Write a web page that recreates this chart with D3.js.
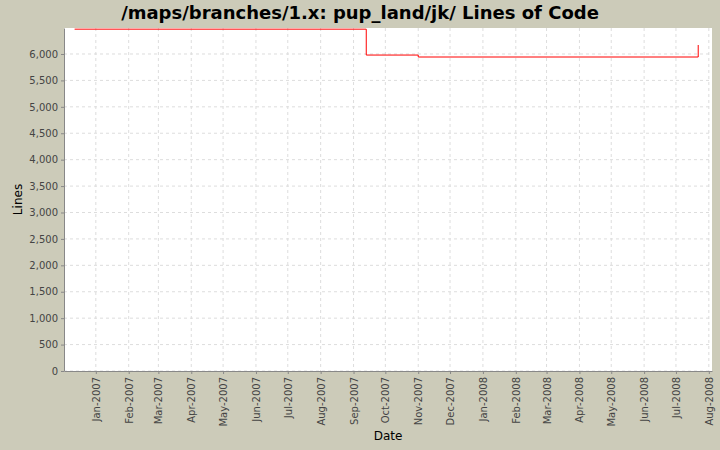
<!DOCTYPE html>
<html><head><meta charset="utf-8">
<script src="https://cdn.jsdelivr.net/npm/d3@7"></script>
<style>body{margin:0;background:#cccbb9}svg{display:block}</style>
</head><body><div id="vis"></div>
<script>
// step data
const dates = ["2006-12-12", "2007-09-13", "2007-11-01", "2008-07-22", "2008-07-22"];
const lines = [6470, 5980, 5943, 5943, 6170];
const yTicks = [0, 500, 1000, 1500, 2000, 2500, 3000, 3500, 4000, 4500, 5000, 5500, 6000];

let svg = d3.select("#vis").append("svg").attr("width", 720).attr("height", 450);
let plotL = 64, plotR = 712, plotT = 28, plotB = 371;
let parse = d3.timeParse("%Y-%m-%d");

let xScale = d3.scaleTime().domain([parse("2006-12-02"), parse("2008-08-04")]).range([plotL, plotR]);
let yScale = d3.scaleLinear().domain([0, 6492]).range([plotB, plotT]);

svg.append("rect").attr("x", plotL).attr("y", plotT).attr("width", plotR - plotL).attr("height", plotB - plotT).attr("fill", "#fff");

let months = d3.timeMonth.range(parse("2007-01-01"), parse("2008-08-02"));

// grid
svg.append("g").selectAll("line").data(months).enter().append("line")
  .attr("x1", d => xScale(d)).attr("x2", d => xScale(d)).attr("y1", plotT).attr("y2", plotB)
  .attr("stroke", "#ddd").attr("stroke-dasharray", "3,3");
svg.append("g").selectAll("line").data(yTicks).enter().append("line")
  .attr("x1", plotL).attr("x2", plotR).attr("y1", d => yScale(d)).attr("y2", d => yScale(d))
  .attr("stroke", "#ddd").attr("stroke-dasharray", "3,3");

// axes
let xAxis = svg.append("g").attr("transform", "translate(0," + plotB + ")")
  .call(d3.axisBottom(xScale).tickValues(months).tickFormat(d3.timeFormat("%b-%Y")).tickSizeOuter(0).tickSizeInner(3));
xAxis.selectAll("text").attr("transform", "rotate(-90)").attr("text-anchor", "end")
  .attr("x", -6).attr("y", 0).attr("dy", "0.35em");
svg.append("g").attr("transform", "translate(" + plotL + ",0)")
  .call(d3.axisLeft(yScale).tickValues(yTicks).tickFormat(d3.format(",")).tickSizeOuter(0).tickSizeInner(3));
svg.selectAll(".tick text").attr("font-family", "DejaVu Sans").attr("font-size", 10).attr("fill", "#444");
svg.selectAll(".domain, .tick line").attr("stroke", "#888");

// line
let pts = dates.map((d, i) => [parse(d), lines[i]]);
svg.append("path").datum(pts)
  .attr("d", d3.line().x(d => xScale(d[0])).y(d => yScale(d[1])).curve(d3.curveStepAfter))
  .attr("fill", "none").attr("stroke", "red").attr("stroke-width", 1);

svg.append("text").attr("x", 360).attr("y", 19).attr("text-anchor", "middle")
  .attr("font-family", "DejaVu Sans").attr("font-weight", "bold").attr("font-size", 18)
  .text("/maps/branches/1.x: pup_land/jk/ Lines of Code");
svg.append("text").attr("x", (plotL + plotR) / 2).attr("y", 440).attr("text-anchor", "middle")
  .attr("font-family", "DejaVu Sans").attr("font-size", 12).text("Date");
svg.append("text").attr("transform", "translate(22," + (plotT + plotB) / 2 + ") rotate(-90)")
  .attr("text-anchor", "middle").attr("font-family", "DejaVu Sans").attr("font-size", 12).text("Lines");
</script></body></html>
